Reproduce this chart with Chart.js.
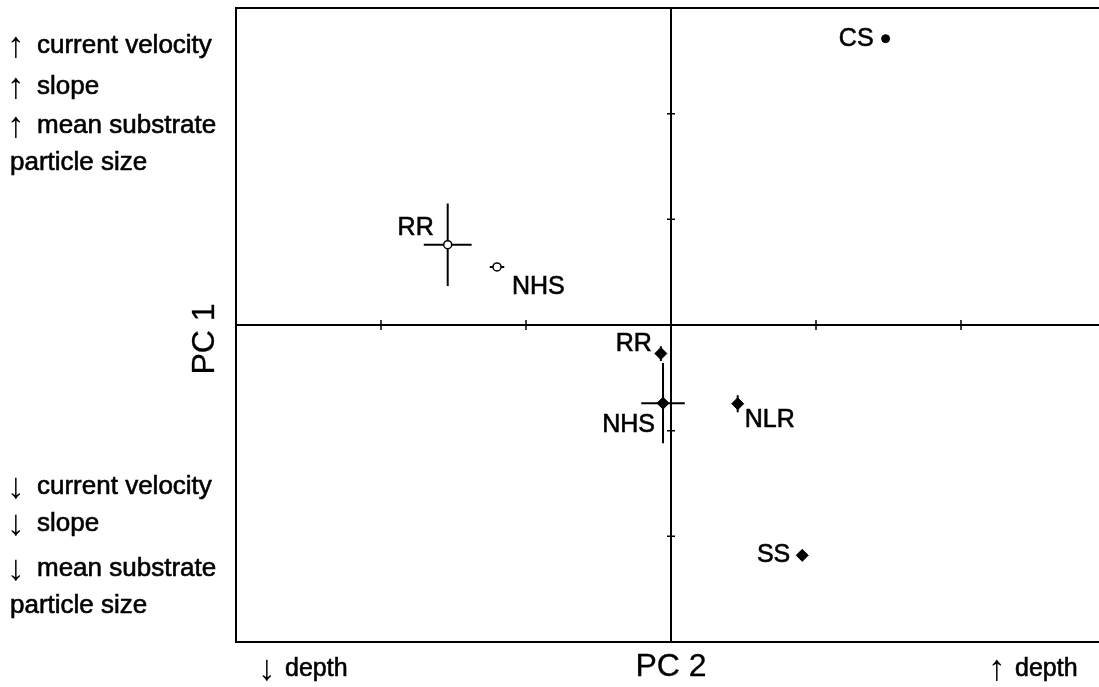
<!DOCTYPE html>
<html>
<head>
<meta charset="utf-8">
<script src="https://cdn.jsdelivr.net/npm/chart.js@4.4.0/dist/chart.umd.min.js"></script>
<style>
  html, body { margin: 0; padding: 0; background: #fff; overflow: hidden; }
  canvas { display: block; }
</style>
</head>
<body>
<canvas id="pcaChart" width="1106" height="687"></canvas>
<script>
// site means on PC 2 (x) and PC 1 (y), with their error bars
const sites  = ['RR', 'NHS', 'RR', 'NHS', 'NLR', 'SS', 'CS'];
const group  = ['open', 'open', 'filled', 'filled', 'filled', 'filled', 'filled'];
const pc2    = [-1.54, -1.20, -0.07, -0.055, 0.46, 0.905, 1.48];
const pc1    = [0.76, 0.55, -0.27, -0.74, -0.745, -2.18, 2.71];
const pc2Err = [0.165, 0.05, 0, 0.15, 0, 0, 0];
const pc1Err = [0.39, 0, 0.07, 0.38, 0.08, 0, 0];
const axisTicks = [-2, -1, 1, 2];

const upperNotes = ['\u2191 current velocity', '\u2191 slope', '\u2191 mean substrate', 'particle size'];
const lowerNotes = ['\u2193 current velocity', '\u2193 slope', '\u2193 mean substrate', 'particle size'];
const depthNotes = ['\u2193 depth', '\u2191 depth'];

// label placement next to each point: [dx, dy, align]
const labelPos = [
  [-14, -17, 'right'],
  [15, 20, 'left'],
  [-9, -9, 'right'],
  [-8, 22, 'right'],
  [7, 16, 'left'],
  [-12, 0, 'right'],
  [-12, 0, 'right']
];
const markerShape = ['circle', 'circle', 'rectRot', 'rectRot', 'rectRot', 'rectRot', 'circle'];

const FONT = '"Liberation Sans", Arial, sans-serif';

function punkit(g) {
  const out = [];
  sites.forEach((s, i) => {
    if (group[i] === g) out.push({ x: pc2[i], y: pc1[i], i: i });
  });
  return out;
}

// text with a slightly heavier stroke
function teksti(c, s, x, y) {
  c.fillText(s, x, y);
  c.strokeText(s, x, y);
}

// arrow glyph (bigger, thin) and the words after it drawn separately
function nuoliteksti(c, s, x, y, gap) {
  const k = s.indexOf(' ');
  if (s[0] === '\u2191' || s[0] === '\u2193') {
    c.save();
    c.font = '36px ' + FONT;
    c.fillText(s[0], x - 3, y + 1);
    c.restore();
    teksti(c, s.slice(k + 1), x + gap, y);
  } else {
    teksti(c, s, x, y);
  }
}

const ordinationPlugin = {
  id: 'ordination',
  beforeDatasetsDraw(chart) {
    const c = chart.ctx;
    const { left, top, right, bottom } = chart.chartArea;
    const sx = chart.scales.x, sy = chart.scales.y;
    const x0 = sx.getPixelForValue(0), y0 = sy.getPixelForValue(0);
    c.save();
    c.strokeStyle = '#000';
    c.lineWidth = 2;
    c.strokeRect(left, top, right - left, bottom - top);
    // zero lines
    c.beginPath();
    c.moveTo(left, y0); c.lineTo(right, y0);
    c.moveTo(x0, top); c.lineTo(x0, bottom);
    c.stroke();
    // tick marks crossing the zero lines
    c.lineWidth = 1.5;
    c.beginPath();
    axisTicks.forEach(t => {
      const px = sx.getPixelForValue(t);
      c.moveTo(px, y0 - 5); c.lineTo(px, y0 + 5);
      const py = sy.getPixelForValue(t);
      c.moveTo(x0 - 4, py); c.lineTo(x0 + 4, py);
    });
    c.stroke();
    // error bars
    c.lineWidth = 2;
    c.beginPath();
    sites.forEach((s, i) => {
      const px = sx.getPixelForValue(pc2[i]), py = sy.getPixelForValue(pc1[i]);
      if (pc2Err[i] > 0) {
        c.moveTo(sx.getPixelForValue(pc2[i] - pc2Err[i]), py);
        c.lineTo(sx.getPixelForValue(pc2[i] + pc2Err[i]), py);
      }
      if (pc1Err[i] > 0) {
        c.moveTo(px, sy.getPixelForValue(pc1[i] - pc1Err[i]));
        c.lineTo(px, sy.getPixelForValue(pc1[i] + pc1Err[i]));
      }
    });
    c.stroke();
    c.restore();
  },
  afterDatasetsDraw(chart) {
    const c = chart.ctx;
    const sx = chart.scales.x, sy = chart.scales.y;
    c.save();
    c.fillStyle = '#000';
    c.strokeStyle = '#000';
    c.lineWidth = 0.6;
    c.textBaseline = 'middle';
    // site labels
    c.font = '25px ' + FONT;
    sites.forEach((s, i) => {
      const [dx, dy, al] = labelPos[i];
      c.textAlign = al;
      teksti(c, s, sx.getPixelForValue(pc2[i]) + dx, sy.getPixelForValue(pc1[i]) + dy);
    });
    // environmental gradients on the left
    c.textAlign = 'left';
    c.font = '26px ' + FONT;
    [46, 87, 126, 163].forEach((yy, k) => nuoliteksti(c, upperNotes[k], 10, yy, 27));
    [487, 524, 569, 606].forEach((yy, k) => nuoliteksti(c, lowerNotes[k], 10, yy, 27));
    // depth notes under the axis
    c.font = '25px ' + FONT;
    nuoliteksti(c, depthNotes[0], 261, 669, 24);
    nuoliteksti(c, depthNotes[1], 991, 669, 24);
    // axis titles
    c.lineWidth = 0.3;
    c.font = '32px ' + FONT;
    c.textAlign = 'center';
    teksti(c, 'PC 2', sx.getPixelForValue(0), 667);
    c.translate(205, sy.getPixelForValue(0) + 14);
    c.rotate(-Math.PI / 2);
    teksti(c, 'PC 1', 0, 0);
    c.restore();
  }
};

new Chart(document.getElementById('pcaChart').getContext('2d'), {
  type: 'scatter',
  data: {
    datasets: [
      {
        label: 'open',
        data: punkit('open'),
        pointStyle: 'circle',
        pointRadius: 4,
        backgroundColor: '#fff',
        borderColor: '#000',
        borderWidth: 1.5
      },
      {
        label: 'filled',
        data: punkit('filled'),
        pointStyle: ctx => markerShape[ctx.raw ? ctx.raw.i : 2],
        pointRadius: ctx => (ctx.raw && markerShape[ctx.raw.i] === 'circle') ? 4 : 6,
        backgroundColor: '#000',
        borderColor: '#000',
        borderWidth: 1
      }
    ]
  },
  options: {
    responsive: false,
    animation: false,
    layout: { autoPadding: false, padding: { left: 236, top: 8, right: 0, bottom: 45 } },
    scales: {
      x: { type: 'linear', min: -3, max: 3, display: false },
      y: { type: 'linear', min: -3, max: 3, display: false }
    },
    plugins: { legend: { display: false }, tooltip: { enabled: false } }
  },
  plugins: [ordinationPlugin]
});
</script>
</body>
</html>
